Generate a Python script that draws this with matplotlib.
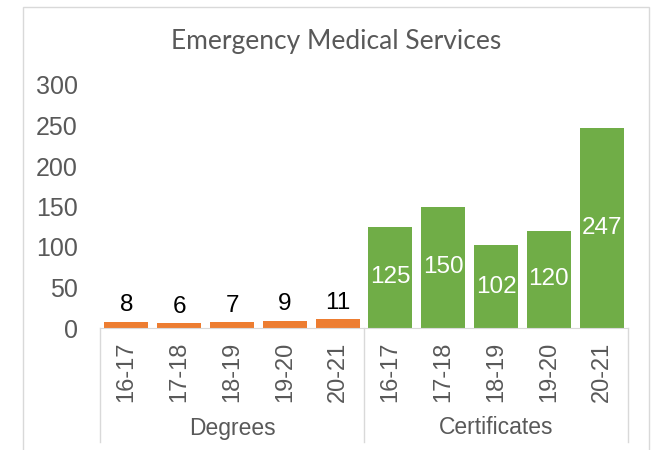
import matplotlib.pyplot as plt
from matplotlib.patches import Rectangle
from matplotlib.transforms import blended_transform_factory

years = ["16-17", "17-18", "18-19", "19-20", "20-21"]
degrees = [8, 6, 7, 9, 11]
certificates = [125, 150, 102, 120, 247]
groups = ["Degrees", "Certificates"]

orange = "#ED7D31"
green = "#70AD47"
grey = "#595959"

fig = plt.figure(figsize=(6.54, 4.5), dpi=100)
ax = fig.add_axes([100 / 654, 122 / 450, 528 / 654, 243 / 450])

# chart frame
fig.patches.append(Rectangle((22.5 / 654, -0.02), 626.5 / 654, 1.02 - 7 / 450,
                             transform=fig.transFigure, fill=False,
                             edgecolor="#D9D9D9", linewidth=1.0))

n = len(years)
xd = list(range(n))
xc = list(range(n, 2 * n))
bd = ax.bar(xd, degrees, width=0.83, color=orange)
bc = ax.bar(xc, certificates, width=0.83, color=green)

for b, v in zip(bd, degrees):
    ax.annotate(str(v), (b.get_x() + b.get_width() / 2, v), xytext=(0, 4),
                textcoords="offset points", ha="center", va="bottom",
                fontsize=17.5, color="black", family="Liberation Sans")
for b, v in zip(bc, certificates):
    ax.text(b.get_x() + b.get_width() / 2, v / 2, str(v), ha="center",
            va="center", fontsize=17.5, color="white", family="Liberation Sans")

ax.set_xlim(-0.5, 2 * n - 0.5)
ax.set_ylim(0, 300)
ax.set_yticks(range(0, 301, 50))
ax.tick_params(axis="y", length=0, pad=16, labelsize=18, labelcolor=grey)
ax.set_xticks(xd + xc)
ax.set_xticklabels(years + years, rotation=90, va="top")
ax.tick_params(axis="x", length=0, pad=10, labelsize=17, labelcolor=grey)
for lab in ax.get_xticklabels() + ax.get_yticklabels():
    lab.set_family("Liberation Sans")

for s in ["left", "right", "top"]:
    ax.spines[s].set_visible(False)
ax.spines["bottom"].set_color("#D9D9D9")

# group separators and group names under the year labels
tr = blended_transform_factory(ax.transData, ax.transAxes)
for x in [-0.5, n - 0.5, 2 * n - 0.5]:
    ax.plot([x, x], [0, -114 / 243], color="#D9D9D9", linewidth=1.0,
            transform=tr, clip_on=False)
for i, g in enumerate(groups):
    ax.text(i * n + (n - 1) / 2, -100 / 243, g, transform=tr, ha="center",
            va="center", fontsize=16.5, color=grey, family="Liberation Sans")

fig.text(336 / 654, 1 - 42 / 450, "Emergency Medical Services", ha="center",
         va="center", fontsize=19, color=grey, family="Lato")

fig.savefig("out.png", dpi=100)
